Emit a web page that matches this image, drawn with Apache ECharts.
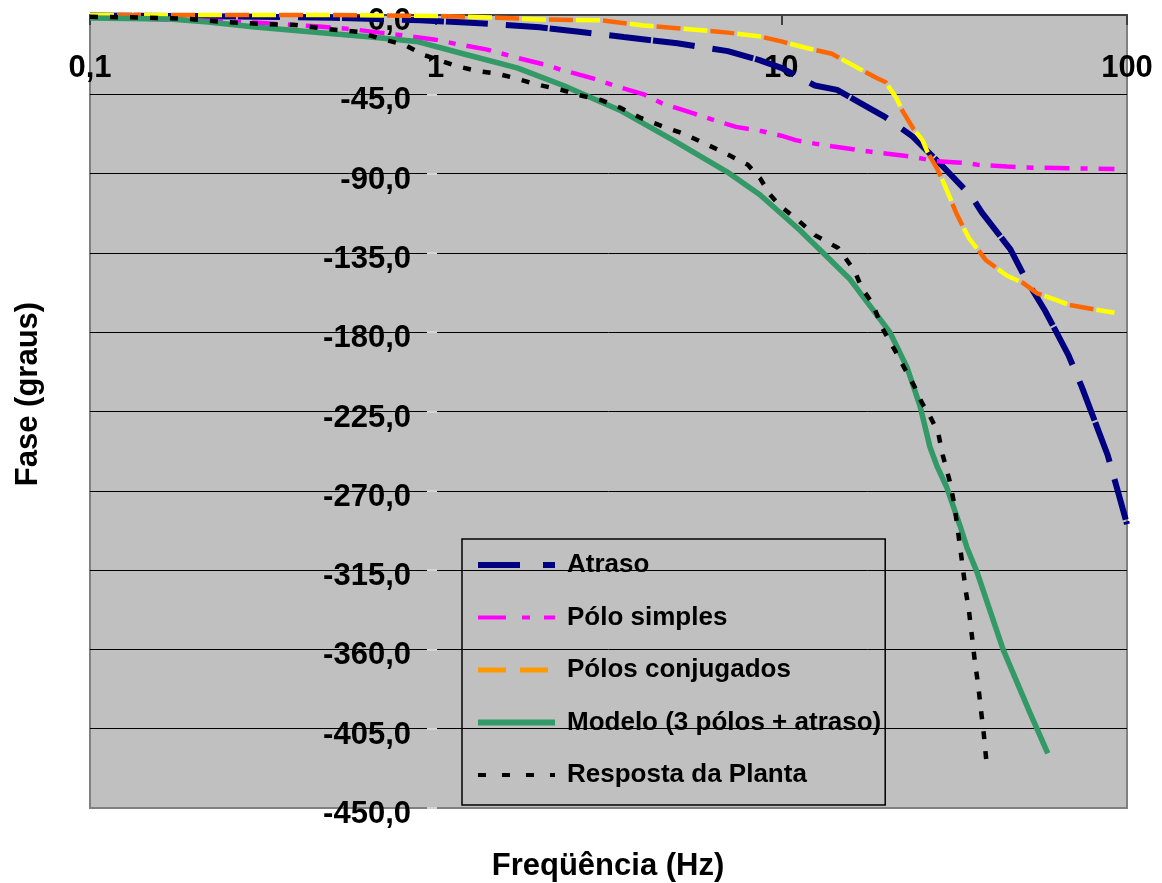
<!DOCTYPE html>
<html><head><meta charset="utf-8">
<script src="https://cdn.jsdelivr.net/npm/echarts@6/dist/echarts.min.js"></script>
<style>html,body{margin:0;padding:0;background:#fff}#c{width:1162px;height:883px}</style>
</head><body><div id="c"></div>
<script>
// ---- data ----
const xTickLabels = ['0,1', '1', '10', '100'];
const seriesNames = ['Atraso', 'Pólo simples', 'Pólos conjugados', 'Modelo (3 pólos + atraso)', 'Resposta da Planta'];

const atrasoFreq  = [0.1, 0.2, 0.5, 0.9, 1.3, 2, 2.6, 3.5, 5, 7, 8.6, 10, 12.5, 14.5, 18.4, 20, 24, 29, 35.5, 38, 46, 51, 58, 67.7, 74, 88, 94, 100];
const atrasoPhase = [-0.3, -0.6, -1.5, -3, -4.5, -7, -9.5, -12.5, -16, -20.5, -25.5, -30, -40, -42.5, -54, -58, -69, -85, -103, -112, -133, -150, -168, -193, -211, -250, -270, -289];

const poloFreq  = [0.1, 0.2, 0.3, 0.45, 0.57, 0.69, 0.8, 1, 1.15, 1.4, 1.7, 2.1, 2.3, 2.85, 3.4, 4, 4.5, 5.6, 6.7, 7.4, 8.8, 10, 11, 12.5, 14, 18, 24, 28, 34, 37, 45, 50, 68, 92];
const poloPhase = [-1.4, -2.9, -4.3, -6.4, -8, -10, -11.5, -14, -16.5, -19.5, -24, -28.5, -31, -36, -41, -45, -50, -56, -61, -63.5, -66, -68.5, -71, -73, -74.5, -77.5, -80.5, -83, -84, -85, -86, -86.5, -87, -87.4];

const conjFreq  = [0.1, 0.5, 1, 1.5, 2, 3, 4, 5, 7, 8.6, 10, 12, 14, 17, 19, 20, 21.5, 22.5, 24, 25.6, 26.5, 28, 29, 30.5, 32, 33.5, 35, 37, 39, 45, 50, 55, 62, 68, 80, 92];
const conjPhase = [0, 0, -0.5, -1.5, -2.5, -3, -6, -7.5, -10, -12, -15, -19, -22, -31, -36, -38, -47, -55, -64, -71, -78, -86, -92, -102, -112, -120, -127, -133, -139, -148, -152, -158, -161.5, -164.5, -167, -169];

const modeloFreq  = [0.1, 0.17, 0.22, 0.3, 0.44, 0.65, 0.88, 1.2, 1.72, 2.34, 3.41, 4.86, 6.96, 8.67, 11.3, 15.8, 20.6, 23.1, 25.2, 26.9, 28.2, 30.1, 32.9, 34.4, 36.8, 43.8, 52.4, 59];
const modeloPhase = [-1.7, -2.3, -4, -6.8, -9.6, -12.5, -15, -22, -30, -40, -54, -71, -89, -102, -122, -150, -180, -200, -222, -245, -256, -268, -290, -302, -316, -360, -396, -419];

const respFreq  = [0.1, 0.15, 0.195, 0.246, 0.31, 0.394, 0.488, 0.596, 0.699, 0.815, 0.925, 1.15, 1.32, 1.5, 1.71, 1.96, 2.32, 2.63, 3.0, 3.41, 3.9, 4.55, 5.19, 5.93, 6.91, 8.0, 8.67, 9.27, 9.97, 11.2, 12.5, 14.6, 16.3, 17.1, 18.4, 19.5, 21.2, 22.8, 24.3, 25.5, 26.9, 28.4, 29.3, 30.7, 31.6, 32.2, 32.9, 33.5, 34.2, 34.9, 35.6, 36.3, 37.1, 37.8, 38.5, 39.3];
const respPhase = [-1, -1.5, -2.3, -4, -5, -5.7, -8, -9.6, -13.6, -17, -22.7, -29, -31.8, -33.2, -36, -39.4, -42.6, -45.7, -48.2, -52.5, -58.2, -63.3, -67.2, -72.4, -78.6, -85, -92.5, -101.9, -108.7, -116.6, -124.9, -132.2, -145.3, -155, -164, -177, -189.5, -201, -211, -220, -227.6, -236.6, -249.7, -264.5, -277, -288.3, -302, -313.8, -327.4, -338.2, -352.4, -367, -380, -394.4, -407.5, -426];

// ---- chart ----
const FONT = '"Liberation Sans", Arial, sans-serif';
function pts(f, p) { return f.map((x, i) => [x, p[i]]); }
const noSym = {opacity: 0, borderWidth: 0};

const chart = echarts.init(document.getElementById('c'), null, {renderer: 'canvas'});
chart.setOption({
  animation: false,
  backgroundColor: '#ffffff',
  grid: {left: 90, right: 35, top: 15, bottom: 75, show: true, backgroundColor: '#C0C0C0', borderColor: '#808080', borderWidth: 2, containLabel: false},
  xAxis: {
    type: 'log', logBase: 10, min: 0.1, max: 100, position: 'top',
    axisLine: {show: true, onZero: false, lineStyle: {color: '#404040', width: 2}},
    axisTick: {show: true, inside: true, length: 10, lineStyle: {color: '#404040', width: 2}},
    axisLabel: {inside: true, margin: 38, fontSize: 31, fontWeight: 'bold', color: '#000', fontFamily: FONT,
      formatter: v => xTickLabels[Math.round(Math.log10(v)) + 1]},
    splitLine: {show: false}, minorTick: {show: false}
  },
  yAxis: {
    type: 'value', min: -450, max: 0, interval: 45, position: 'left', offset: -347,
    axisLine: {show: false},
    axisTick: {show: true, length: 10, lineStyle: {color: '#D4D4D4', width: 2}},
    axisLabel: {margin: 26, fontSize: 31, fontWeight: 'bold', color: '#000', fontFamily: FONT,
      verticalAlign: 'top', lineHeight: 13,
      formatter: v => v.toFixed(1).replace('.', ',')},
    splitLine: {show: true, showMinLine: false, showMaxLine: false, lineStyle: {color: '#000', width: 1}}
  },
  legend: {
    orient: 'vertical', left: 462, top: 539, padding: [13, 4, 17, 13],
    itemWidth: 77, itemHeight: 26, itemGap: 26.5,
    backgroundColor: 'transparent', borderColor: '#000', borderWidth: 1.5, borderRadius: 0,
    itemStyle: noSym,
    textStyle: {fontSize: 26, fontWeight: 'bold', color: '#000', fontFamily: FONT, lineHeight: 26, padding: [0, 0, 0, 7]},
    data: [
      {name: seriesNames[0], itemStyle: noSym, lineStyle: {color: '#000080', width: 6, type: [42, 23, 12], dashOffset: 0}},
      {name: seriesNames[1], itemStyle: noSym, lineStyle: {color: '#FF00FF', width: 4, type: [28, 16, 8, 14], dashOffset: 0}},
      {name: seriesNames[2], itemStyle: noSym, lineStyle: {color: '#FF9900', width: 5, type: [28, 14], dashOffset: 0}},
      {name: seriesNames[3], itemStyle: noSym, lineStyle: {color: '#339966', width: 6, type: 'solid'}},
      {name: seriesNames[4], itemStyle: noSym, lineStyle: {color: '#000000', width: 4, type: [8, 16], dashOffset: 0}}
    ]
  },
  graphic: [
    {type: 'text', x: 28, y: 394, rotation: Math.PI / 2,
      style: {text: 'Fase (graus)', font: 'bold 31px ' + FONT, fill: '#000', align: 'center', verticalAlign: 'middle'}},
    {type: 'text', x: 608, y: 866,
      style: {text: 'Freqüência (Hz)', font: 'bold 31px ' + FONT, fill: '#000', align: 'center', verticalAlign: 'middle'}}
  ],
  series: [
    {name: seriesNames[0], type: 'line', data: pts(atrasoFreq, atrasoPhase), symbol: 'none', clip: false,
      itemStyle: {color: '#000080'}, lineStyle: {color: '#000080', width: 6, type: [42, 2, 42, 18]}},
    {name: seriesNames[1], type: 'line', data: pts(poloFreq, poloPhase), symbol: 'none', clip: false,
      itemStyle: {color: '#FF00FF'}, lineStyle: {color: '#FF00FF', width: 4.5, type: [25, 11, 7, 11]}},
    {name: 'conj-yellow', type: 'line', data: pts(conjFreq, conjPhase), symbol: 'none', clip: false,
      itemStyle: {color: '#FFFF00'}, lineStyle: {color: '#FFFF00', width: 4.5, type: [24, 30]}},
    {name: seriesNames[2], type: 'line', data: pts(conjFreq, conjPhase), symbol: 'none', clip: false,
      itemStyle: {color: '#FF6600'}, lineStyle: {color: '#FF6600', width: 4.5, type: [24, 30], dashOffset: 27}},
    {name: seriesNames[3], type: 'line', data: pts(modeloFreq, modeloPhase), symbol: 'none', clip: false,
      itemStyle: {color: '#339966'}, lineStyle: {color: '#339966', width: 5.5}},
    {name: seriesNames[4], type: 'line', data: pts(respFreq, respPhase), symbol: 'none', clip: false,
      itemStyle: {color: '#000000'}, lineStyle: {color: '#000000', width: 4.5, type: [8, 12]}}
  ]
});
</script></body></html>
